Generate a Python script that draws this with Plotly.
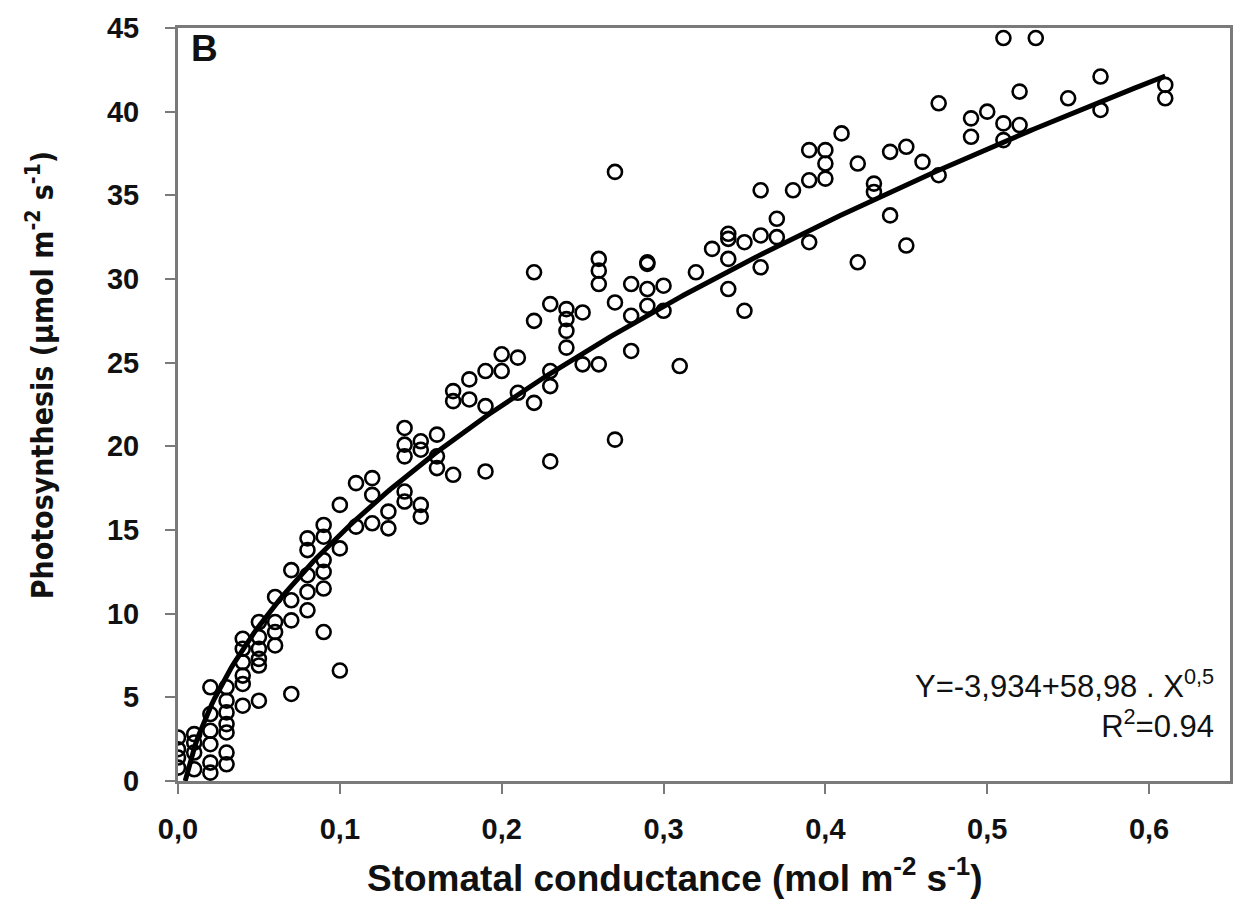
import numpy as np
import plotly.graph_objects as go

# ---- data ----
gs = [0.00, 0.00, 0.00, 0.00,
      0.01, 0.01, 0.01, 0.01,
      0.02, 0.02, 0.02, 0.02, 0.02, 0.02,
      0.03, 0.03, 0.03, 0.03, 0.03, 0.03, 0.03,
      0.04, 0.04, 0.04, 0.04, 0.04, 0.04,
      0.05, 0.05, 0.05, 0.05, 0.05, 0.05,
      0.06, 0.06, 0.06, 0.06,
      0.07, 0.07, 0.07, 0.07,
      0.08, 0.08, 0.08, 0.08, 0.08,
      0.09, 0.09, 0.09, 0.09, 0.09, 0.09,
      0.10, 0.10, 0.10,
      0.11, 0.11,
      0.12, 0.12, 0.12,
      0.13, 0.13,
      0.14, 0.14, 0.14, 0.14, 0.14,
      0.15, 0.15, 0.15, 0.15,
      0.16, 0.16, 0.16,
      0.17, 0.17, 0.17,
      0.18, 0.18,
      0.19, 0.19, 0.19,
      0.20, 0.20,
      0.21, 0.21,
      0.22, 0.22, 0.22,
      0.23, 0.23, 0.23, 0.23,
      0.24, 0.24, 0.24, 0.24,
      0.25, 0.25,
      0.26, 0.26, 0.26, 0.26,
      0.27, 0.27, 0.27,
      0.28, 0.28, 0.28,
      0.29, 0.29, 0.29, 0.29,
      0.30, 0.30,
      0.31, 0.32, 0.33,
      0.34, 0.34, 0.34, 0.34,
      0.35, 0.35,
      0.36, 0.36, 0.36,
      0.37, 0.37,
      0.38,
      0.39, 0.39, 0.39,
      0.40, 0.40, 0.40,
      0.41,
      0.42, 0.42,
      0.43, 0.43,
      0.44, 0.44,
      0.45, 0.45,
      0.46,
      0.47, 0.47,
      0.49, 0.49,
      0.50,
      0.51, 0.51, 0.51,
      0.52, 0.52,
      0.53, 0.55,
      0.57, 0.57,
      0.61, 0.61]

photo = [2.6, 1.9, 1.4, 0.8,
         2.8, 2.3, 1.7, 0.7,
         5.6, 4.0, 3.0, 2.2, 1.1, 0.5,
         5.6, 4.8, 4.1, 3.4, 2.9, 1.7, 1.0,
         8.5, 7.9, 7.1, 6.3, 5.8, 4.5,
         9.5, 8.6, 7.9, 7.3, 6.9, 4.8,
         11.0, 9.5, 8.9, 8.1,
         12.6, 10.8, 9.6, 5.2,
         14.5, 13.8, 12.3, 11.3, 10.2,
         15.3, 14.6, 13.2, 12.5, 11.5, 8.9,
         16.5, 13.9, 6.6,
         17.8, 15.2,
         18.1, 17.1, 15.4,
         16.1, 15.1,
         21.1, 20.1, 19.4, 17.3, 16.7,
         20.3, 19.8, 16.5, 15.8,
         20.7, 19.4, 18.7,
         23.3, 22.7, 18.3,
         24.0, 22.8,
         24.5, 22.4, 18.5,
         25.5, 24.5,
         25.3, 23.2,
         30.4, 27.5, 22.6,
         28.5, 24.5, 23.6, 19.1,
         28.2, 27.6, 26.9, 25.9,
         28.0, 24.9,
         31.2, 30.5, 29.7, 24.9,
         36.4, 28.6, 20.4,
         29.7, 27.8, 25.7,
         31.0, 30.9, 29.4, 28.4,
         29.6, 28.1,
         24.8, 30.4, 31.8,
         32.7, 32.4, 31.2, 29.4,
         32.2, 28.1,
         35.3, 32.6, 30.7,
         33.6, 32.5,
         35.3,
         37.7, 35.9, 32.2,
         37.7, 36.9, 36.0,
         38.7,
         36.9, 31.0,
         35.7, 35.2,
         37.6, 33.8,
         37.9, 32.0,
         37.0,
         40.5, 36.2,
         39.6, 38.5,
         40.0,
         44.4, 39.3, 38.3,
         41.2, 39.2,
         44.4, 40.8,
         42.1, 40.1,
         41.6, 40.8]

# fitted curve Y = a + b * X^0.5 (from the equation printed on the chart)
fit_a = -3.934
fit_b = 58.98
fit_xmax = 0.61

x_ticks = [0.0, 0.1, 0.2, 0.3, 0.4, 0.5, 0.6]
x_ticklabels = ["0,0", "0,1", "0,2", "0,3", "0,4", "0,5", "0,6"]
y_ticks = [0, 5, 10, 15, 20, 25, 30, 35, 40, 45]

x0 = (-fit_a / fit_b) ** 2
xf = np.linspace(x0, fit_xmax, 300)
yf = fit_a + fit_b * np.sqrt(xf)

FONT = "Liberation Sans, Arial, sans-serif"
NARROW = "Liberation Sans Narrow, Arial Narrow, DejaVu Sans Condensed, sans-serif"
INK = "#111"

fig = go.Figure()
fig.add_trace(go.Scatter(
    x=gs, y=photo, mode="markers",
    marker=dict(symbol="circle-open", size=14, color="black",
                line=dict(width=2.6, color="black")),
    showlegend=False, hoverinfo="skip"))
fig.add_trace(go.Scatter(
    x=xf, y=yf, mode="lines",
    line=dict(color="black", width=5),
    showlegend=False, hoverinfo="skip"))

fig.update_layout(
    width=1245, height=903,
    margin=dict(l=178, r=15, t=19, b=122),
    paper_bgcolor="white", plot_bgcolor="white",
    font=dict(family=FONT, color=INK),
    xaxis=dict(range=[0, 0.65], tickvals=x_ticks, ticktext=x_ticklabels,
               showgrid=False, zeroline=False,
               showline=True, linecolor="#7a7a7a", linewidth=3, mirror=True,
               ticks="outside", ticklen=10, tickwidth=1.5, tickcolor="#7a7a7a",
               ticklabelstandoff=10,
               tickfont=dict(size=29, family=FONT, weight="bold", color=INK)),
    yaxis=dict(range=[0, 45], tickvals=y_ticks,
               showgrid=False, zeroline=False,
               showline=True, linecolor="#7a7a7a", linewidth=3, mirror=True,
               ticks="outside", ticklen=10, tickwidth=1.5, tickcolor="#7a7a7a",
               ticklabelstandoff=20,
               tickfont=dict(size=29, family=FONT, weight="bold", color=INK)),
    annotations=[
        dict(text="Photosynthesis (µmol m<sup>-2</sup> s<sup>-1</sup>)", textangle=-90,
             xref="paper", yref="paper", x=-0.131, y=0.539,
             xanchor="center", yanchor="middle", showarrow=False,
             font=dict(size=30, family=NARROW, weight="bold", color=INK)),
        dict(text="Stomatal conductance (mol m<sup>-2</sup> s<sup>-1</sup>)",
             xref="paper", yref="paper", x=0.4724, y=-0.125,
             xanchor="center", yanchor="middle", showarrow=False,
             font=dict(size=37, family=FONT, weight="bold", color=INK)),
        dict(text="B", xref="paper", yref="paper", x=0.0105, y=1.003,
             xanchor="left", yanchor="top", showarrow=False,
             font=dict(size=37, family=FONT, weight="bold", color=INK)),
        dict(text="Y=-3,934+58,98 . X<sup>0,5</sup><br>R<sup>2</sup>=0.94",
             xref="paper", yref="paper", align="right",
             x=0.987, y=0.102, xanchor="right", yanchor="middle", showarrow=False,
             font=dict(size=31, family=FONT, color=INK)),
    ],
)

fig.write_html("out.html")
